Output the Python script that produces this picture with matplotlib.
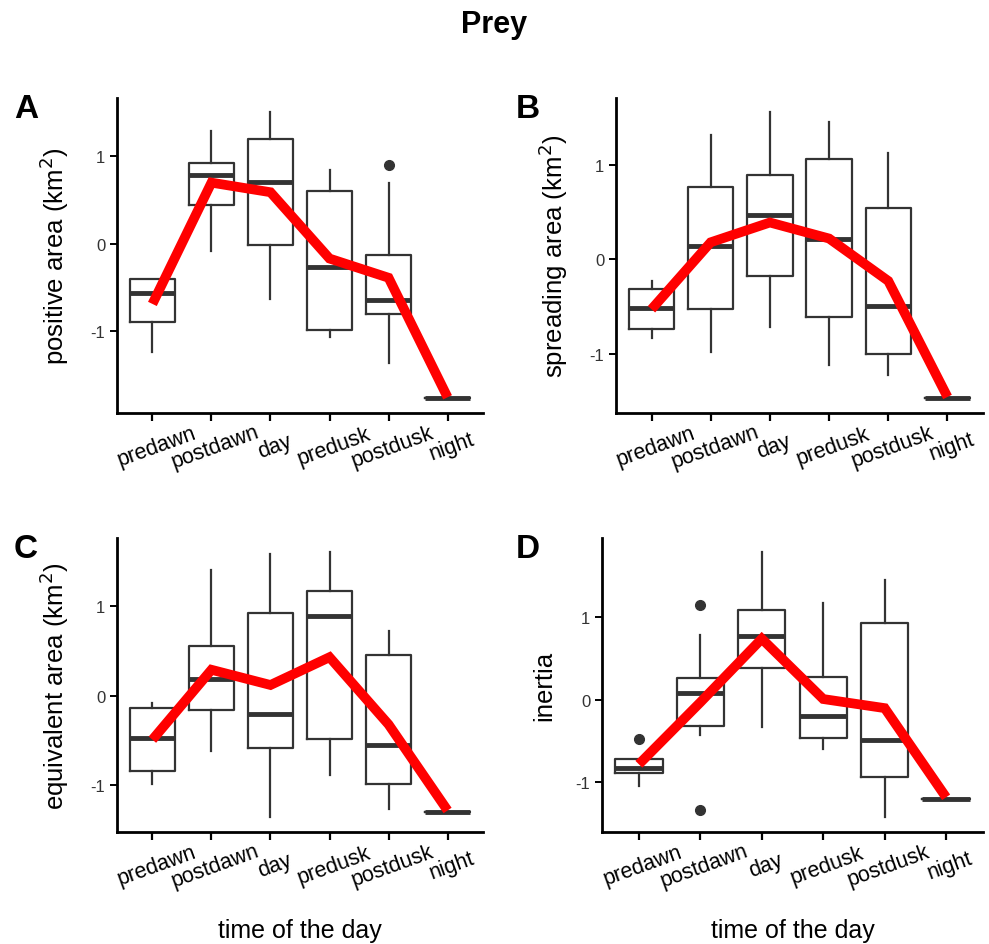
import matplotlib
matplotlib.use("Agg")
import matplotlib.pyplot as plt
import matplotlib.transforms as mtransforms

plt.rcParams["font.family"] = ["Liberation Sans", "DejaVu Sans"]
plt.rcParams["axes.unicode_minus"] = False

PERIODS = ["predawn", "postdawn", "day", "predusk", "postdusk", "night"]

# box stats per period: (whislo, q1, med, q3, whishi)
POS_BOX = [(-1.24, -0.90, -0.57, -0.40, -0.40), (-0.08, 0.44, 0.79, 0.93, 1.29),
           (-0.63, -0.01, 0.71, 1.20, 1.51), (-1.07, -0.99, -0.27, 0.60, 0.85),
           (-1.37, -0.81, -0.65, -0.13, 0.70), (-1.77, -1.77, -1.77, -1.77, -1.77)]
POS_FLIERS = [[], [], [], [], [0.90], []]
POS_MEAN = [-0.69, 0.70, 0.59, -0.17, -0.39, -1.76]

SPR_BOX = [(-0.83, -0.74, -0.52, -0.31, -0.23), (-0.98, -0.53, 0.145, 0.77, 1.32),
           (-0.72, -0.18, 0.47, 0.89, 1.56), (-1.12, -0.61, 0.22, 1.06, 1.46),
           (-1.23, -1.00, -0.50, 0.54, 1.13), (-1.47, -1.47, -1.47, -1.47, -1.47)]
SPR_FLIERS = [[], [], [], [], [], []]
SPR_MEAN = [-0.53, 0.18, 0.39, 0.22, -0.23, -1.46]

EQV_BOX = [(-0.99, -0.84, -0.47, -0.14, -0.08), (-0.62, -0.16, 0.19, 0.55, 1.40),
           (-1.35, -0.58, -0.20, 0.92, 1.58), (-0.88, -0.48, 0.89, 1.17, 1.60),
           (-1.26, -0.99, -0.55, 0.46, 0.72), (-1.30, -1.30, -1.30, -1.30, -1.30)]
EQV_FLIERS = [[], [], [], [], [], []]
EQV_MEAN = [-0.49, 0.29, 0.12, 0.43, -0.32, -1.28]

INR_BOX = [(-1.04, -0.89, -0.82, -0.72, -0.72), (-0.43, -0.32, 0.08, 0.27, 0.78),
           (-0.33, 0.39, 0.77, 1.09, 1.79), (-0.60, -0.46, -0.20, 0.28, 1.17),
           (-1.42, -0.94, -0.48, 0.93, 1.45), (-1.20, -1.20, -1.20, -1.20, -1.20)]
INR_FLIERS = [[-0.47], [1.15, -1.33], [], [], [], []]
INR_MEAN = [-0.78, -0.03, 0.74, 0.01, -0.10, -1.18]

W, H = 989, 945
# panel: (letter, letter x px, ylabel, box, fliers, mean, rect px (left, right, top, bottom), ylim, xlabel)
PANELS = [
    ("A", 14, "positive area (km$^2$)", POS_BOX, POS_FLIERS, POS_MEAN, (117, 483, 99, 414), (-1.94, 1.67), False),
    ("B", 516, "spreading area (km$^2$)", SPR_BOX, SPR_FLIERS, SPR_MEAN, (616, 983, 99, 414), (-1.63, 1.71), False),
    ("C", 14, "equivalent area (km$^2$)", EQV_BOX, EQV_FLIERS, EQV_MEAN, (117, 483, 539, 833), (-1.52, 1.76), True),
    ("D", 516, "inertia", INR_BOX, INR_FLIERS, INR_MEAN, (602, 983, 539, 833), (-1.60, 1.96), True),
]

EDGE = "#333333"

fig = plt.figure(figsize=(W / 100, H / 100), dpi=100)
fig.text(0.5, 1 - 25 / H, "Prey", ha="center", va="center", fontsize=22, fontweight="bold")
shift = mtransforms.ScaledTranslation(4 / 100, 0, fig.dpi_scale_trans)

for letter, lx, ylabel, box, fliers, mean, (l, r, t, b), ylim, show_xlabel in PANELS:
    ax = fig.add_axes([l / W, 1 - b / H, (r - l) / W, (b - t) / H])
    stats = []
    for (lo, q1, med, q3, hi), fl in zip(box, fliers):
        stats.append(dict(whislo=lo, q1=q1, med=med, q3=q3, whishi=hi, fliers=fl))
    pos = list(range(1, len(PERIODS) + 1))
    ax.bxp(stats, positions=pos, widths=0.77, showcaps=False,
           boxprops=dict(color=EDGE, linewidth=1.6),
           whiskerprops=dict(color=EDGE, linewidth=1.6),
           medianprops=dict(color=EDGE, linewidth=3.5, solid_capstyle="butt"),
           flierprops=dict(marker="o", markerfacecolor=EDGE, markeredgecolor=EDGE, markersize=7))
    ax.plot(pos, mean, color="#ff0000", linewidth=7, solid_joinstyle="miter",
            solid_capstyle="butt", zorder=5)

    ax.set_xlim(0.4, 6.6)
    ax.set_ylim(*ylim)
    ax.set_yticks([-1, 0, 1])
    ax.set_xticks(pos)
    ax.set_xticklabels(PERIODS, rotation=20, ha="center", va="center",
                       rotation_mode="anchor", fontsize=15.5)
    ax.tick_params(axis="y", labelsize=12, labelcolor="#333333", length=5, width=1.4, direction="out")
    ax.tick_params(axis="x", length=6, width=1.6, direction="out", pad=18)
    # nudge the rotated labels a few pixels right, as in the original
    for lab in ax.get_xticklabels():
        lab.set_transform(lab.get_transform() + shift)
    for side in ("top", "right"):
        ax.spines[side].set_visible(False)
    for side in ("left", "bottom"):
        ax.spines[side].set_linewidth(2)
        ax.spines[side].set_color("black")
    ax.set_ylabel(ylabel, fontsize=18.5, labelpad=14)
    if show_xlabel:
        ax.set_xlabel("time of the day", fontsize=18)
        ax.xaxis.set_label_coords(0.5, (b - 919) / (b - t))
    fig.text(lx / W, 1 - (t + 11) / H, letter, ha="left", va="center",
             fontsize=24, fontweight="bold")

fig.savefig("out.png", dpi=100)
